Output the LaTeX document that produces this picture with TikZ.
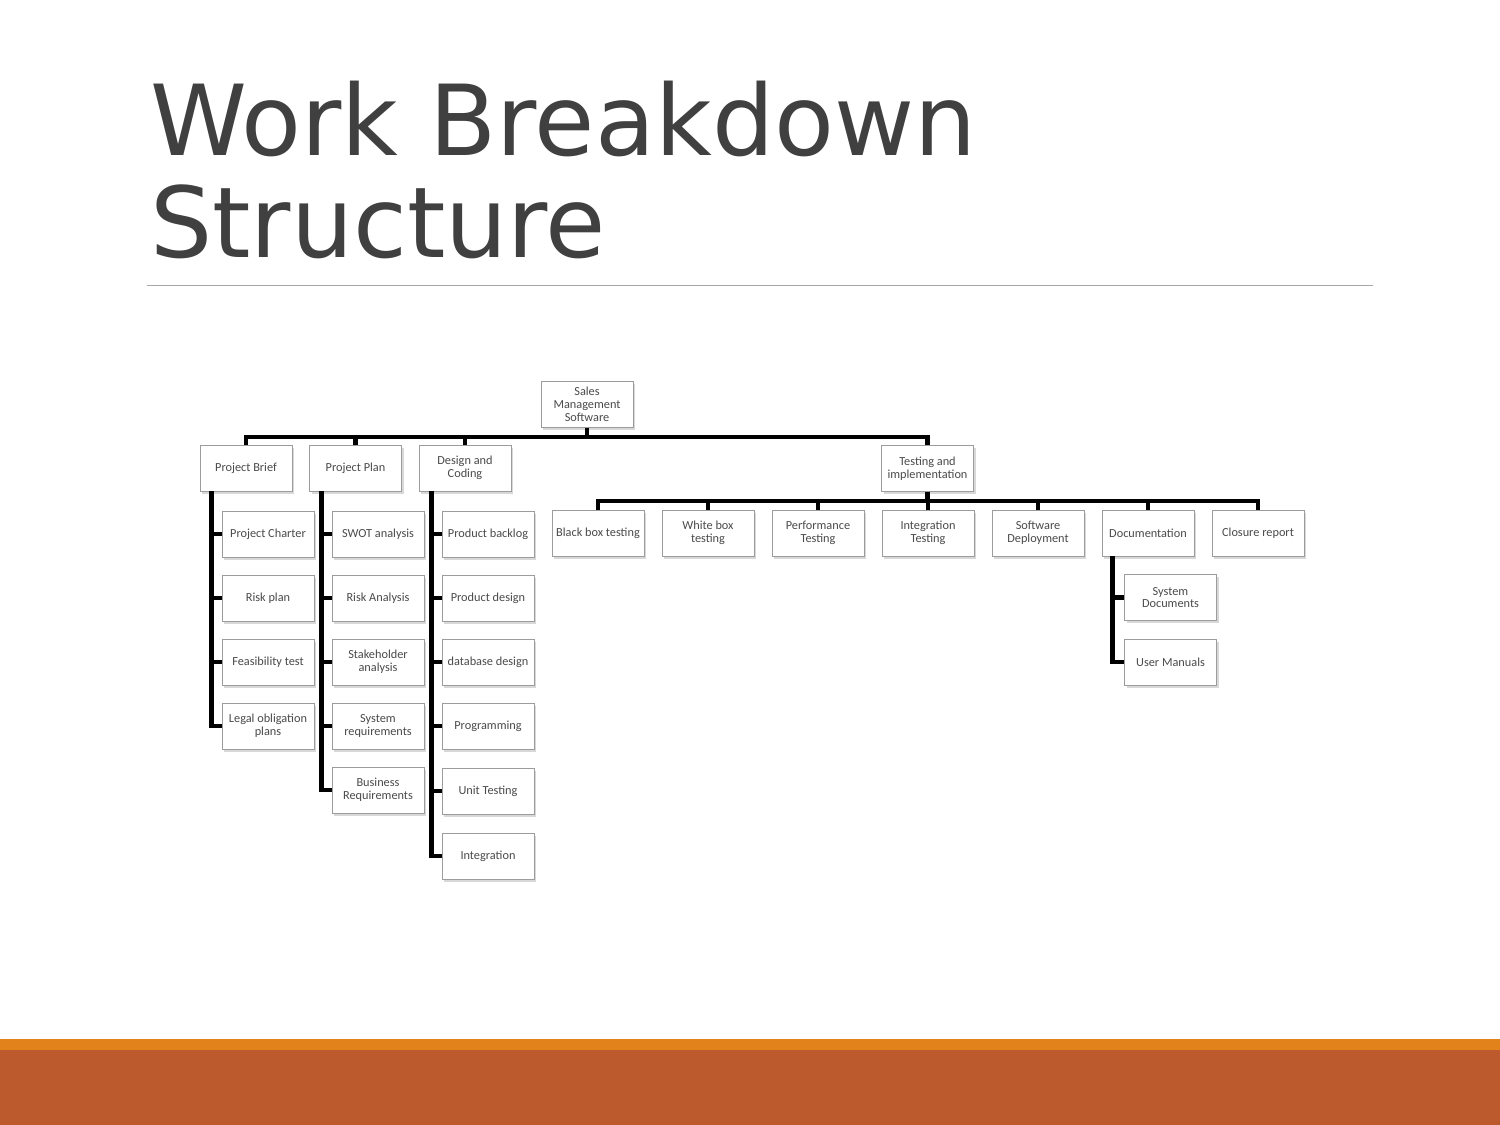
\documentclass[tikz,border=0pt]{standalone}
\usepackage{fontspec}
\setmainfont{Carlito}
\newfontfamily\titlefont{DejaVu Sans}
\usetikzlibrary{shadows,calc}
\definecolor{titlegray}{HTML}{404040}
\definecolor{rulegray}{HTML}{A6A6A6}
\definecolor{boxborder}{HTML}{9C9C9C}
\definecolor{boxtext}{HTML}{4A4A4A}
\definecolor{bandorange}{HTML}{E2821A}
\definecolor{bandrust}{HTML}{BC5A2D}
\begin{document}
\begin{tikzpicture}[x=1pt,y=-1pt,
  box/.style={draw=boxborder, line width=0.8pt, fill=white, minimum width=92pt, minimum height=46pt,
    inner sep=1pt, align=center, text=boxtext, font=\fontsize{12.3}{12.8}\selectfont,
    drop shadow={shadow xshift=2pt, shadow yshift=-2.5pt, opacity=0.3}},
  conn/.style={line width=4.5pt, black},
  titletext/.style={anchor=base west, inner sep=0, text=titlegray, font=\titlefont\fontsize{98}{100}\selectfont}]
\useasboundingbox (0,0) rectangle (1500,1125);
\fill[white] (0,0) rectangle (1500,1125);
% title
\node[titletext] (t1) at (150,155) {Work Breakdown};
\node[titletext] (t2) at (150,257) {Structure};
\draw[rulegray, line width=1pt] (147,285) -- (1373,285);
% bottom bands
\fill[bandorange] (0,1039) rectangle (1500,1050);
\fill[bandrust] (0,1050) rectangle (1500,1125);
% nodes
\node[box] (root) at (587,404.5) {Sales\\Management\\Software};
\node[box] (pb) at (246,468) {Project Brief};
\node[box] (pp) at (355.5,468) {Project Plan};
\node[box] (dc) at (465,468) {Design and\\Coding};
\node[box] (ti) at (927.5,468.5) {Testing and\\implementation};
% project brief children
\node[box] (pb1) at (268,534) {Project Charter};
\node[box] (pb2) at (268,598) {Risk plan};
\node[box] (pb3) at (268,662) {Feasibility test};
\node[box] (pb4) at (268,726) {Legal obligation\\plans};
% project plan children
\node[box] (pp1) at (378,534) {SWOT analysis};
\node[box] (pp2) at (378,598) {Risk Analysis};
\node[box] (pp3) at (378,662) {Stakeholder\\analysis};
\node[box] (pp4) at (378,726) {System\\requirements};
\node[box] (pp5) at (378,790) {Business\\Requirements};
% design children
\node[box] (dc1) at (488,534) {Product backlog};
\node[box] (dc2) at (488,598) {Product design};
\node[box] (dc3) at (488,662) {database design};
\node[box] (dc4) at (488,726) {Programming};
\node[box] (dc5) at (488,791) {Unit Testing};
\node[box] (dc6) at (488,856) {Integration};
% testing children
\node[box] (ti1) at (598,533) {Black box testing};
\node[box] (ti2) at (708,533) {White box\\testing};
\node[box] (ti3) at (818,533) {Performance\\Testing};
\node[box] (ti4) at (928,533) {Integration\\Testing};
\node[box] (ti5) at (1038,533) {Software\\Deployment};
\node[box] (ti6) at (1148,533) {Documentation};
\node[box] (ti7) at (1258,533) {Closure report};
% documentation children
\node[box] (doc1) at (1170.5,597.5) {System\\Documents};
\node[box] (doc2) at (1170.5,662) {User Manuals};
% connectors
\coordinate (bar1) at (0,437);
\coordinate (bar2) at (0,501);
\foreach \c in {pb,pp,dc,ti}
  \draw[conn] (root.south) -- (root.south |- bar1) -| (\c.north);
\foreach \c in {ti1,ti2,ti3,ti4,ti5,ti6,ti7}
  \draw[conn] (ti.south) -- (ti.south |- bar2) -| (\c.north);
\coordinate (pbv) at ($(pb.south west)+(12,0)$);
\coordinate (ppv) at ($(pp.south west)+(12.5,0)$);
\coordinate (dcv) at ($(dc.south west)+(13,0)$);
\coordinate (docv) at ($(ti6.south west)+(11,0)$);
\foreach \c in {pb1,pb2,pb3,pb4}
  \draw[conn] (pbv) |- (\c.west);
\foreach \c in {pp1,pp2,pp3,pp4,pp5}
  \draw[conn] (ppv) |- (\c.west);
\foreach \c in {dc1,dc2,dc3,dc4,dc5,dc6}
  \draw[conn] (dcv) |- (\c.west);
\foreach \c in {doc1,doc2}
  \draw[conn] (docv) |- (\c.west);
\end{tikzpicture}
\end{document}
